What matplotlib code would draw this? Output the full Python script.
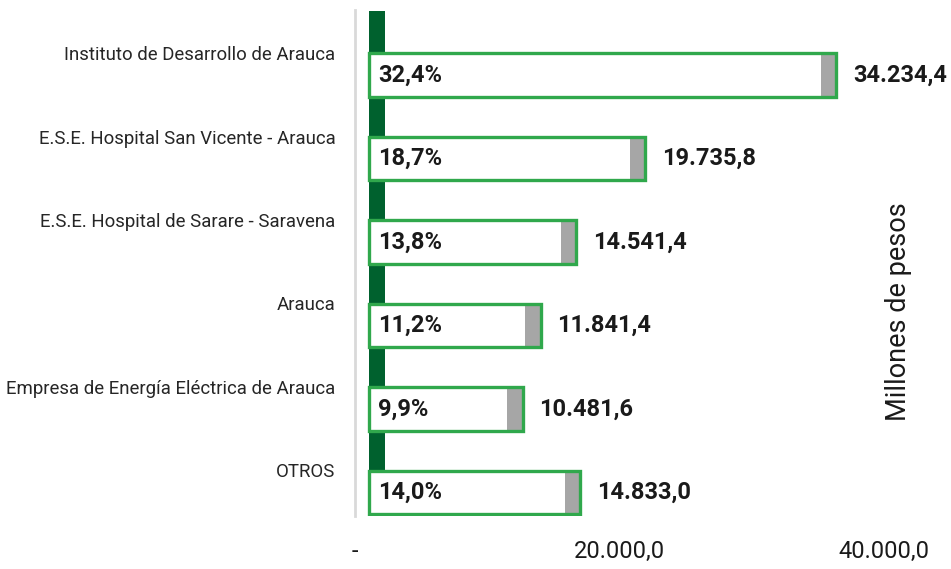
import matplotlib
matplotlib.use('Agg')
import matplotlib.pyplot as plt
import matplotlib.transforms as mtransforms
from matplotlib.ticker import FuncFormatter

plt.rcParams['font.family'] = ['Roboto', 'DejaVu Sans']

entidades = ['Instituto de Desarrollo de Arauca',
             'E.S.E. Hospital San Vicente - Arauca',
             'E.S.E. Hospital de Sarare - Saravena',
             'Arauca',
             'Empresa de Energía Eléctrica de Arauca',
             'OTROS']
valores = [34234.4, 19735.8, 14541.4, 11841.4, 10481.6, 14833.0]
ticks_x = [0, 20000, 40000]

total = sum(valores)
porcentajes = [v / total * 100 for v in valores]


def formato(v, decimales=1):
    s = f'{v:,.{decimales}f}'
    return s.replace(',', 'X').replace('.', ',').replace('X', '.')


verde_osc = '#00612e'
verde = '#30a84c'
gris = '#a6a6a6'

fig = plt.figure(figsize=(9.51, 5.69), dpi=100)
ax = fig.add_axes([355 / 951, 1 - 516 / 569, 585 / 951, 506 / 569])

inicio = -1150
pos = list(range(len(entidades)))
pos_barra = [p + 0.264 for p in pos]

# franja verde oscura
ax.barh(pos, [1250] * len(pos), left=inicio, height=1.0, color=verde_osc, zorder=1)

# barras blancas con borde verde
anchos = [v - inicio for v in valores]
ax.barh(pos_barra, anchos, left=inicio, height=0.52, color='white', zorder=2)
ax.barh(pos_barra, [1150] * len(pos), left=[v - 1150 for v in valores],
        height=0.5, color=gris, zorder=3)
ax.barh(pos_barra, anchos, left=inicio, height=0.52, facecolor='none',
        edgecolor=verde, linewidth=2.4, zorder=4)

for y, v, p in zip(pos_barra, valores, porcentajes):
    ax.text(-450, y, formato(p) + '%', ha='left', va='center',
            fontsize=17, fontweight='bold', color='#1a1a1a', zorder=5)
    ax.text(v + 1280, y, formato(v), ha='left', va='center',
            fontsize=17, fontweight='bold', color='#1a1a1a')

ax.set_xlim(-2194, 42067)
ax.set_ylim(5.545, -0.515)

ax.set_yticks(pos)
ax.set_yticklabels(entidades, fontsize=13.4, color='#262626')
ax.tick_params(axis='y', length=0, pad=14)

ax.set_xticks(ticks_x)
ax.xaxis.set_major_formatter(FuncFormatter(lambda v, _: '-' if v == 0 else formato(v)))
ax.tick_params(axis='x', length=0, pad=17, labelsize=17, labelcolor='#1a1a1a')
desplaza = mtransforms.ScaledTranslation(-0.29, 0, fig.dpi_scale_trans)
for lab in ax.get_xticklabels():
    lab.set_transform(lab.get_transform() + desplaza)

for lado in ['top', 'right', 'bottom']:
    ax.spines[lado].set_visible(False)
ax.spines['left'].set_color('#d9d9d9')
ax.spines['left'].set_linewidth(2)

fig.text(898 / 951, 1 - 312 / 569, 'Millones de pesos', rotation=90,
         ha='center', va='center', fontsize=19.5, color='#1a1a1a')

fig.savefig('out.png', dpi=100)
